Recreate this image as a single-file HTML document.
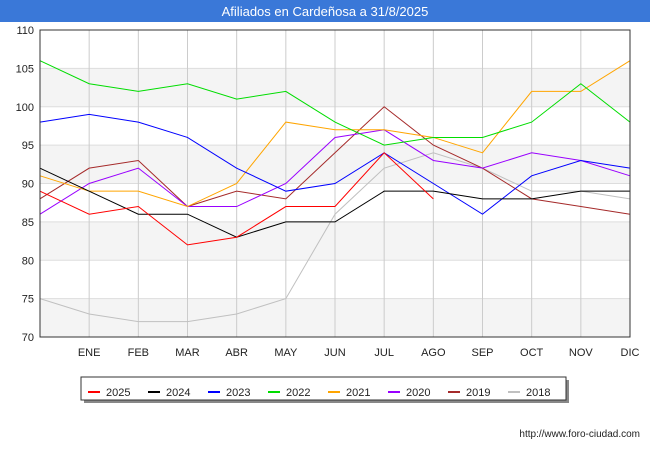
<!DOCTYPE html>
<html><head><meta charset="utf-8"><style>
body{margin:0;width:650px;height:450px;background:#fff;font-family:"Liberation Sans",sans-serif;overflow:hidden}
</style></head><body>
<svg width="650" height="450">
<rect x="0" y="0" width="650" height="450" fill="#fff"/>
<rect x="0" y="0" width="650" height="22" fill="#3a78d8"/>
<text x="325" y="16" text-anchor="middle" font-size="13" fill="#fff">Afiliados en Cardeñosa a 31/8/2025</text>
<g id="bands"></g><g id="grid"></g><g id="axes"></g><g id="series"></g>
<rect x="40" y="30" width="590" height="307" fill="none" stroke="#333" stroke-width="1"/>
<rect x="84" y="380" width="485" height="23" fill="#888"/>
<rect x="81" y="377" width="485" height="23" fill="#fff" stroke="#333"/>
<g id="legend"></g>
<text x="640" y="437" text-anchor="end" font-size="10" fill="#222">http://www.foro-ciudad.com</text>
</svg>
<script>
const months=["","ENE","FEB","MAR","ABR","MAY","JUN","JUL","AGO","SEP","OCT","NOV","DIC"];
const yTicks=[70,75,80,85,90,95,100,105,110];
const seriesNames=["2025","2024","2023","2022","2021","2020","2019","2018"];
const seriesColors=["#ff0000","#000000","#0000ff","#00dd00","#ffa500","#9900ff","#a52a2a","#c0c0c0"];
const s2025=[89,86,87,82,83,87,87,94,88];
const s2024=[92,89,86,86,83,85,85,89,89,88,88,89,89];
const s2023=[98,99,98,96,92,89,90,94,90,86,91,93,92];
const s2022=[106,103,102,103,101,102,98,95,96,96,98,103,98];
const s2021=[91,89,89,87,90,98,97,97,96,94,102,102,106];
const s2020=[86,90,92,87,87,90,96,97,93,92,94,93,91];
const s2019=[88,92,93,87,89,88,94,100,95,92,88,87,86];
const s2018=[75,73,72,72,73,75,86,92,94,92,89,89,88];
const allSeries=[s2025,s2024,s2023,s2022,s2021,s2020,s2019,s2018];
const NS="http://www.w3.org/2000/svg";
const X0=40,X1=630,Y0=337,Y1=30;
const xs=i=>X0+(X1-X0)*i/12;
const ys=v=>Y0-(v-70)*(Y0-Y1)/40;
function mk(tag,attrs,parent){const e=document.createElementNS(NS,tag);for(const k in attrs)e.setAttribute(k,attrs[k]);document.getElementById(parent).appendChild(e);return e;}
for(let i=0;i<yTicks.length-1;i++){
 if(i%2===0){const r=mk("rect",{x:X0,y:ys(yTicks[i+1]),width:X1-X0,height:ys(yTicks[i])-ys(yTicks[i+1]),fill:"#f4f4f4"},"bands");
 
 }
}
yTicks.forEach(v=>{
 const l=mk("line",{x1:X0,x2:X1,y1:ys(v),y2:ys(v),stroke:"#ddd"},"grid");
 
 
 const t=mk("text",{x:X0-6,y:ys(v)+4,"text-anchor":"end","font-size":"11",fill:"#222"},"axes");t.textContent=v;
 
 
});
months.forEach((m,i)=>{
 if(i>0){const l=mk("line",{x1:xs(i),x2:xs(i),y1:Y1,y2:Y0,stroke:"#ccc"},"grid");
 
 }
 const t=mk("text",{x:xs(i),y:356,"text-anchor":"middle","font-size":"11",fill:"#222"},"axes");t.textContent=m;
 
 
});
for(let s=allSeries.length-1;s>=0;s--){
 const pts=allSeries[s].map((v,i)=>xs(i)+","+ys(v)).join(" ");
 const p=mk("polyline",{points:pts,fill:"none",stroke:seriesColors[s],"stroke-width":"1"},"series");
 
 
}
seriesNames.forEach((n,i)=>{
 const x=88+i*60;
 const l=mk("line",{x1:x,x2:x+12,y1:392,y2:392,stroke:seriesColors[i],"stroke-width":"2"},"legend");
 
 
 const t=mk("text",{x:x+18,y:396,"font-size":"11",fill:"#222"},"legend");t.textContent=n;
 
 
});
</script>
</body></html>
